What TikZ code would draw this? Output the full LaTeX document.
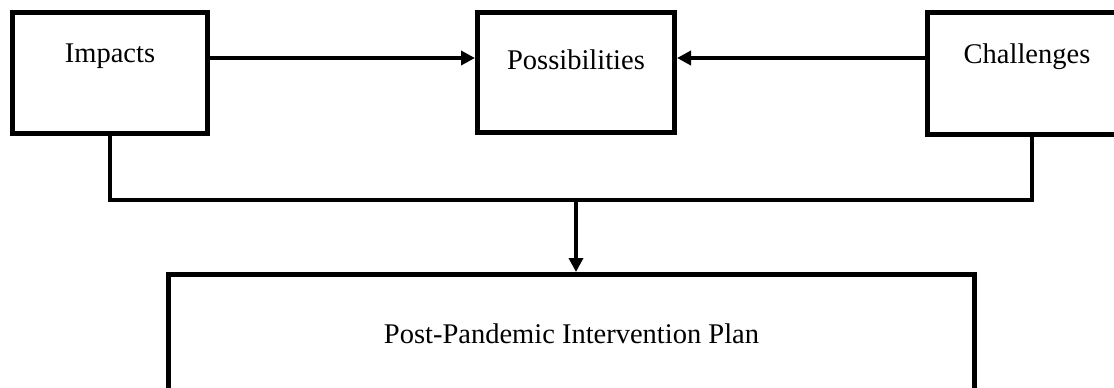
\documentclass[tikz,border=0pt]{standalone}
\usepackage{fontspec}
\setmainfont{Liberation Serif}
\usetikzlibrary{arrows.meta}

\tikzset{
  block/.style={draw, line width=5pt, inner sep=0pt, font=\fontsize{28.5}{32}\selectfont},
  conn/.style={line width=3.5pt, -{Triangle[length=14pt,width=14pt]}},
  link/.style={line width=3.5pt}
}

\begin{document}
\begin{tikzpicture}[x=1pt,y=-1pt]
      \useasboundingbox (0,0) rectangle (1114,388);
      \clip (0,0) rectangle (1114,388);
      \node[block, minimum width=195pt, text height=50pt, text depth=71pt] (impacts) at (110,72.5) {Impacts};
      \node[block, minimum width=197pt, text height=57pt, text depth=63pt] (poss) at (576,72) {Possibilities};
      \node[block, minimum width=199pt, text height=51pt, text depth=71.5pt] (chall) at (1027,73.25) {Challenges};
      \node[block, minimum width=806pt, text height=68.5pt, text depth=77pt] (plan) at (571.5,347.25) {Post-Pandemic Intervention Plan};
      \coordinate (join) at (576,200);
      \begin{scope}[link]
        \draw[conn] (impacts.east |- 0,58) to (poss.west |- 0,58);
        \draw[conn] (chall.west |- 0,58) to (poss.east |- 0,58);
        \draw (impacts.south) |- (join) -| ([xshift=5pt]chall.south);
        \draw[conn] (join) to (join |- plan.north);
      \end{scope}
    \end{tikzpicture}
\end{document}
